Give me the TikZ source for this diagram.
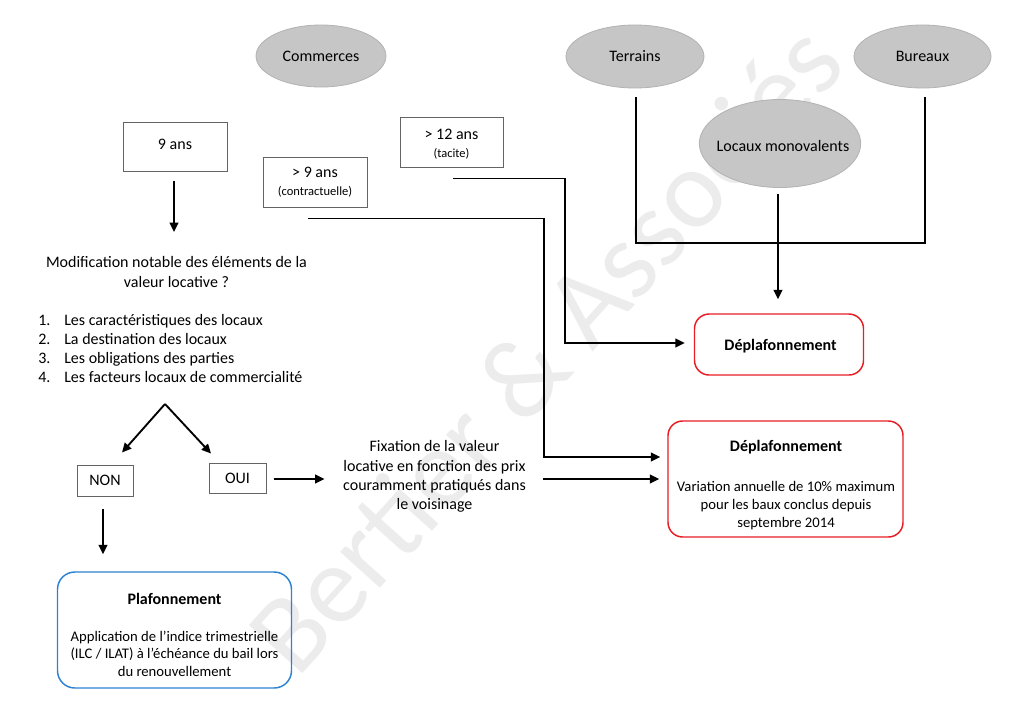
\documentclass[tikz,border=0pt]{standalone}
\usepackage{fontspec}
\setmainfont{Carlito}
\usetikzlibrary{shapes.geometric,arrows.meta,calc}
\definecolor{redb}{RGB}{232,30,36}
\definecolor{blueb}{RGB}{45,130,210}
\definecolor{ellfill}{RGB}{198,198,198}
\definecolor{elldraw}{RGB}{178,178,178}
\definecolor{boxdraw}{RGB}{100,100,100}
\definecolor{wm}{RGB}{236,236,236}
\begin{document}
\begin{tikzpicture}[x=0.75pt,y=-0.75pt,
  every node/.style={font=\fontsize{12}{15}\selectfont, inner sep=0pt},
  oval/.style={ellipse, fill=ellfill, draw=elldraw, line width=0.6pt},
  sbox/.style={rectangle, draw=boxdraw, line width=0.75pt, align=center},
  twoline/.style={align=center, font=\fontsize{12}{13.5}\selectfont},
  redbox/.style={rectangle, rounded corners=11pt, draw=redb, line width=1.1pt},
  bluebox/.style={rectangle, rounded corners=13pt, draw=blueb, line width=1.1pt},
  txt/.style={align=center},
  arr/.style={line width=1.4pt, -{Triangle[length=7pt,width=6.5pt]}},
  conn/.style={line width=1.4pt}
]
\useasboundingbox[fill=white] (0,0) rectangle (1024,704);

% watermark
\node[text=wm, rotate=48, font=\fontsize{84}{84}\selectfont] (wmark) at (545,348) {Bertier \& Associés};

% ellipses
\node[oval, minimum width=97.5pt, minimum height=46.5pt] (com) at (321,56) {Commerces};
\node[oval, minimum width=103.5pt, minimum height=47.25pt] (ter) at (635,56.5) {Terrains};
\node[oval, minimum width=102.75pt, minimum height=47.25pt] (bur) at (922.5,56.5) {Bureaux};
\node[oval, minimum width=121pt, minimum height=66pt] (loc) at (780,143.5) {};
\node (loct) at (783,145.5) {Locaux monovalents};

% duration boxes
\node[sbox, minimum width=78pt, minimum height=36.75pt] (n9) at (175,146.5) {};
\node (n9t) at (175,144) {9 ans};
\node[sbox, minimum width=78pt, minimum height=37.5pt] (n9p) at (315,182) {};
\node[twoline] (n9pt) at (315,182.5) {> 9 ans\\{\fontsize{9.4}{11}\selectfont (contractuelle)}};
\node[sbox, minimum width=77.25pt, minimum height=37.5pt] (n12) at (451.5,142) {};
\node[twoline] (n12t) at (451.5,144.5) {> 12 ans\\{\fontsize{9.3}{11}\selectfont (tacite)}};

% question and list
\node[txt, font=\fontsize{12}{15}\selectfont] (q) at (176.5,272) {Modification notable des éléments de la\\valeur locative ?};
\node[align=left, anchor=north west, font=\fontsize{12}{14.25}\selectfont] (lst) at (38,314)
  {\makebox[19.5pt][l]{1.}Les caractéristiques des locaux\\
   \makebox[19.5pt][l]{2.}La destination des locaux\\
   \makebox[19.5pt][l]{3.}Les obligations des parties\\
   \makebox[19.5pt][l]{4.}Les facteurs locaux de commercialité};

% NON / OUI
\node[sbox, minimum width=42pt, minimum height=23.25pt] (non) at (105,480.5) {NON};
\node[sbox, minimum width=42.75pt, minimum height=22.5pt] (oui) at (237.5,478) {OUI};

% fixation text
\node[txt, font=\fontsize{12}{14.5}\selectfont] (fix) at (434.5,476.5)
  {Fixation de la valeur\\locative en fonction des prix\\couramment pratiqués dans\\le voisinage};

% result boxes
\node[bluebox, minimum width=175.5pt, minimum height=87pt] (plaf) at (174.5,630) {};
\node[txt, font=\fontsize{11}{13.1}\selectfont] (plaft) at (174.5,635)
  {{\fontsize{12}{13}\selectfont\textbf{Plafonnement}}\\[14.5pt]Application de l’indice trimestrielle\\(ILC / ILAT) à l’échéance du bail lors\\du renouvellement};

\node[redbox, minimum width=126.75pt, minimum height=45.75pt] (dep1) at (779,344.5) {};
\node (dep1t) at (780.5,346) {\textbf{Déplafonnement}};

\node[redbox, minimum width=176.25pt, minimum height=87pt] (dep2) at (785.5,479) {};
\node[txt, font=\fontsize{11}{13.5}\selectfont] (dep2t) at (786,485)
  {{\fontsize{12}{13}\selectfont\textbf{Déplafonnement}}\\[16pt]Variation annuelle de 10\% maximum\\pour les baux conclus depuis\\septembre 2014};

% helper coordinates
\coordinate (v1) at (544,0);
\coordinate (v2) at (565,0);
\coordinate (hb) at (0,243);
\coordinate (apex) at (165,404);

% connectors
\draw[arr] ($(n9.south)+(-1,9)$) -- ($(q.center)+(-2.5,-40)$);
\draw[arr] (apex) -- ($(non.north)+(17,-12)$);
\draw[arr] (apex) -- ($(oui.north west)+(2.5,-9)$);
\draw[arr] ($(non.south)+(-2,12.5)$) -- ($(plaf.north)+(-71.5,-17)$);
\draw[arr] ($(oui.east)+(7,1)$) -- ($(fix.center)+(-110,2.5)$);
\draw[arr] ($(fix.center)+(108.5,2.5)$) -- ($(dep2.west)+(-8,0)$);

\draw[arr] ($(n9p.south)+(-7,11)$) coordinate (s1) -- (s1 -| v1) |- ($(dep2.west)+(-7,-22)$);
\draw[arr] ($(n12.south)+(1.5,11)$) coordinate (s2) -- (s2 -| v2) |- ($(dep1.west)+(-9,-1.5)$);

\draw[conn] ($(ter.south)+(1,9)$) coordinate (t1) -- (t1 |- hb) -| ($(bur.south)+(2.5,9)$);
\draw[arr] ($(loc.south)+(-2,6)$) -- ($(dep1.north)+(-1,-14)$);
\end{tikzpicture}
\end{document}
